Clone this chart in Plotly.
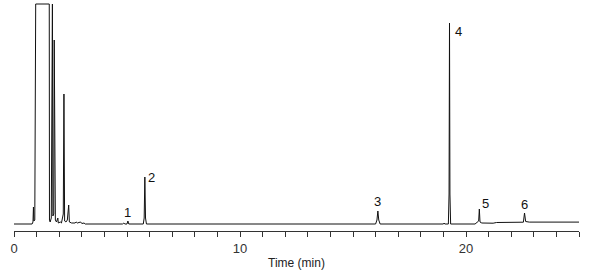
import plotly.graph_objects as go

# Chromatogram readings (time in min, detector signal in arbitrary units)
time_min = [0.00, 0.80, 0.84, 0.86, 0.88, 0.92, 0.96, 1.56, 1.57, 1.60, 1.65, 1.68, 1.70,
            1.72, 1.76, 1.78, 1.80, 1.81, 1.83, 1.88, 1.94, 1.96, 2.05, 2.10, 2.18, 2.21,
            2.24, 2.30, 2.36, 2.42, 2.45, 2.55, 2.70, 2.75, 2.80, 2.95, 3.00, 3.10, 3.15,
            4.80, 4.86, 4.90, 5.00, 5.04, 5.08, 5.72, 5.76, 5.79, 5.82, 5.86,
            16.00, 16.06, 16.10, 16.14, 16.20, 19.00, 19.03, 19.06, 19.22, 19.25, 19.27,
            19.29, 19.32, 20.40, 20.45, 20.52, 20.56, 20.59, 20.62, 20.70, 21.20, 21.35,
            21.80, 22.54, 22.59, 22.64, 22.80, 25.00]
signal = [0, 0, 2, 17, 3, 4, 220, 220, 4, 2, 6, 220, 220,
          8, 10, 184, 20, 49, 4, 2, 6, 1, 2, 1, 10, 130,
          3, 2, 4, 19, 2, 1, 1, 2, 1, 2, 0.5, 1, 0,
          0, 1, 0, 0, 3, 0, 0, 6, 47, 6, 0,
          0, 4, 13, 4, 0, 0, 1, 0, 0, 30, 201,
          30, 0, 0, 1, 2, 3, 15, 2, 1, 0.8, 1.5,
          1.8, 1.8, 11, 2.5, 1.9, 1.9]

# Peak labels
peak_labels = ["1", "2", "3", "4", "5", "6"]
peak_times = [5.04, 5.79, 16.10, 19.27, 20.59, 22.59]
peak_heights = [3, 47, 13, 201, 15, 11]
label_dx = [0, 7, 0, 9, 6, 0]
label_dy = [9, 0, 10, -8, 6, 9]

tick_vals = list(range(0, 26))
tick_text = [str(v) if v % 10 == 0 else "" for v in tick_vals]

fig = go.Figure()
fig.add_trace(go.Scatter(x=time_min, y=signal, mode="lines",
                         line=dict(color="#111111", width=1), hoverinfo="skip",
                         showlegend=False))

for lab, t, h, dx, dy in zip(peak_labels, peak_times, peak_heights, label_dx, label_dy):
    fig.add_annotation(x=t, y=h, text=lab, showarrow=False, xshift=dx, yshift=dy,
                       font=dict(size=13, color="#111111", family="Liberation Sans, Arial"))

fig.update_layout(
    width=600, height=274,
    margin=dict(l=14, r=21, t=3, b=43),
    paper_bgcolor="white", plot_bgcolor="white",
    font=dict(family="Liberation Sans, Arial", color="#222222"),
    xaxis=dict(range=[0, 25], showgrid=False, zeroline=False, showline=True,
               linecolor="#333333", linewidth=1, ticks="outside", ticklen=5,
               tickcolor="#333333", tickvals=tick_vals, ticktext=tick_text,
               tickfont=dict(size=13, color="#333333"),
               title=dict(text="Time (min)", font=dict(size=12, color="#222222"),
                          standoff=4)),
    yaxis=dict(range=[-7, 221], visible=False, showgrid=False, zeroline=False),
)

fig.write_html("out.html")
